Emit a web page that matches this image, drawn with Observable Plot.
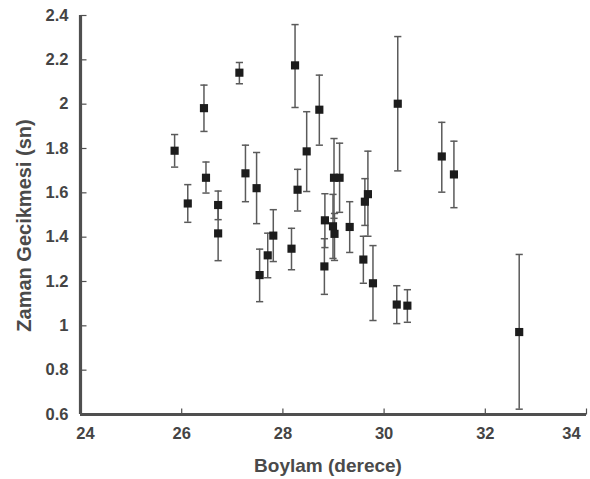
<!DOCTYPE html>
<html><head><meta charset="utf-8">
<script src="https://cdn.jsdelivr.net/npm/d3@7"></script>
<script src="https://cdn.jsdelivr.net/npm/@observablehq/plot@0.6"></script>
<style>html,body{margin:0;padding:0;background:#fff;} svg{display:block;} svg text{font-weight:bold;}</style>
</head><body><div id="chart"></div>
<script>
const longitude = [25.86, 26.12, 26.44, 26.48, 26.72, 26.72, 27.14, 27.26, 27.48, 27.54, 27.70, 27.81, 28.17, 28.24, 28.29, 28.47, 28.72, 28.83, 28.82, 28.99, 29.02, 29.01, 29.12, 29.32, 29.62, 29.68, 29.59, 29.78, 30.25, 30.46, 30.27, 31.14, 31.38, 32.67];
const delay = [1.790, 1.552, 1.982, 1.668, 1.545, 1.417, 2.142, 1.688, 1.621, 1.229, 1.318, 1.407, 1.348, 2.175, 1.614, 1.787, 1.975, 1.476, 1.268, 1.449, 1.415, 1.668, 1.668, 1.446, 1.560, 1.594, 1.299, 1.192, 1.096, 1.091, 2.002, 1.764, 1.683, 0.972];
const upper = [1.863, 1.637, 2.086, 1.739, 1.608, 1.540, 2.188, 1.815, 1.782, 1.346, 1.418, 1.524, 1.440, 2.359, 1.706, 1.966, 2.131, 1.596, 1.393, 1.593, 1.507, 1.845, 1.824, 1.560, 1.664, 1.788, 1.404, 1.362, 1.181, 1.163, 2.305, 1.918, 1.833, 1.322];
const lower = [1.716, 1.467, 1.877, 1.599, 1.479, 1.294, 2.092, 1.560, 1.461, 1.109, 1.217, 1.290, 1.253, 1.985, 1.518, 1.606, 1.815, 1.353, 1.142, 1.304, 1.295, 1.485, 1.512, 1.331, 1.453, 1.404, 1.192, 1.024, 1.010, 1.016, 1.699, 1.603, 1.533, 0.624];

const xTicks = [24, 26, 28, 30, 32, 34];
const yTicks = [0.6, 0.8, 1, 1.2, 1.4, 1.6, 1.8, 2, 2.2, 2.4];
const xTitle = "Boylam (derece)";
const yTitle = "Zaman Gecikmesi (sn)";

const data = longitude.map((x, i) => ({x, y: delay[i], hi: upper[i], lo: lower[i]}));
const cap = {draw(ctx, size) { const w = Math.sqrt(size / Math.PI); ctx.moveTo(-w, 0); ctx.lineTo(w, 0); }};
const upTick = {draw(ctx) { ctx.moveTo(0, 0); ctx.lineTo(0, -6); }};
const rightTick = {draw(ctx) { ctx.moveTo(0, 0); ctx.lineTo(6, 0); }};
const axisColor = "#4f4f4f";
const labelColor = "#444";
const fmt = d => String(d);
const lab = {tickSize: 0, tickFormat: fmt, fontSize: 16.5, fontWeight: "bold", color: labelColor};

const plot = Plot.plot({
  width: 590,
  height: 479,
  marginLeft: 80,
  marginRight: 4,
  marginTop: 15,
  marginBottom: 65,
  style: {fontFamily: "'Liberation Sans', Arial, sans-serif", fontWeight: "bold", background: "#fff"},
  x: {domain: [24, 34], label: null},
  y: {domain: [0.6, 2.4], label: null},
  marks: [
    // tick labels
    Plot.axisX(xTicks.slice(1, -1), {...lab, tickPadding: 12.6}),
    Plot.axisX(xTicks.slice(0, 1), {...lab, tickPadding: 12.6, dx: 5}),
    Plot.axisX(xTicks.slice(-1), {...lab, tickPadding: 12.6, dx: -15}),
    Plot.axisY(yTicks, {...lab, tickPadding: 12}),
    // inward ticks
    Plot.dot(xTicks.slice(1), {x: d => d, frameAnchor: "bottom", symbol: upTick, stroke: axisColor, strokeWidth: 1.2, fill: "none"}),
    Plot.dot(yTicks.slice(1), {y: d => d, frameAnchor: "left", symbol: rightTick, stroke: axisColor, strokeWidth: 1.2, fill: "none"}),
    // axis lines
    Plot.ruleX([24], {stroke: axisColor, strokeWidth: 3.2}),
    Plot.ruleY([0.6], {stroke: axisColor, strokeWidth: 3.2}),
    // error bars
    Plot.ruleX(data, {x: "x", y1: "lo", y2: "hi", stroke: "#5a5a5a", strokeWidth: 1.5}),
    Plot.dot(data, {x: "x", y: "hi", symbol: cap, r: 3.6, stroke: "#5a5a5a", strokeWidth: 1.5, fill: "none"}),
    Plot.dot(data, {x: "x", y: "lo", symbol: cap, r: 3.6, stroke: "#5a5a5a", strokeWidth: 1.5, fill: "none"}),
    // markers
    Plot.dot(data, {x: "x", y: "y", symbol: "square", r: 4.6, fill: "#1c1c1c", stroke: "none"}),
    // titles
    Plot.text([xTitle], {frameAnchor: "bottom", lineAnchor: "middle", textAnchor: "middle", dy: 51.6, dx: -5.5, fontSize: 19, fontWeight: "bold", fill: "#4a4a4a"}),
    Plot.text([yTitle], {frameAnchor: "left", lineAnchor: "middle", textAnchor: "middle", rotate: -90, dx: -56.4, dy: 10.5, fontSize: 20, fontWeight: "bold", fill: "#4a4a4a"})
  ]
});
document.getElementById("chart").appendChild(plot);
</script>
</body></html>
